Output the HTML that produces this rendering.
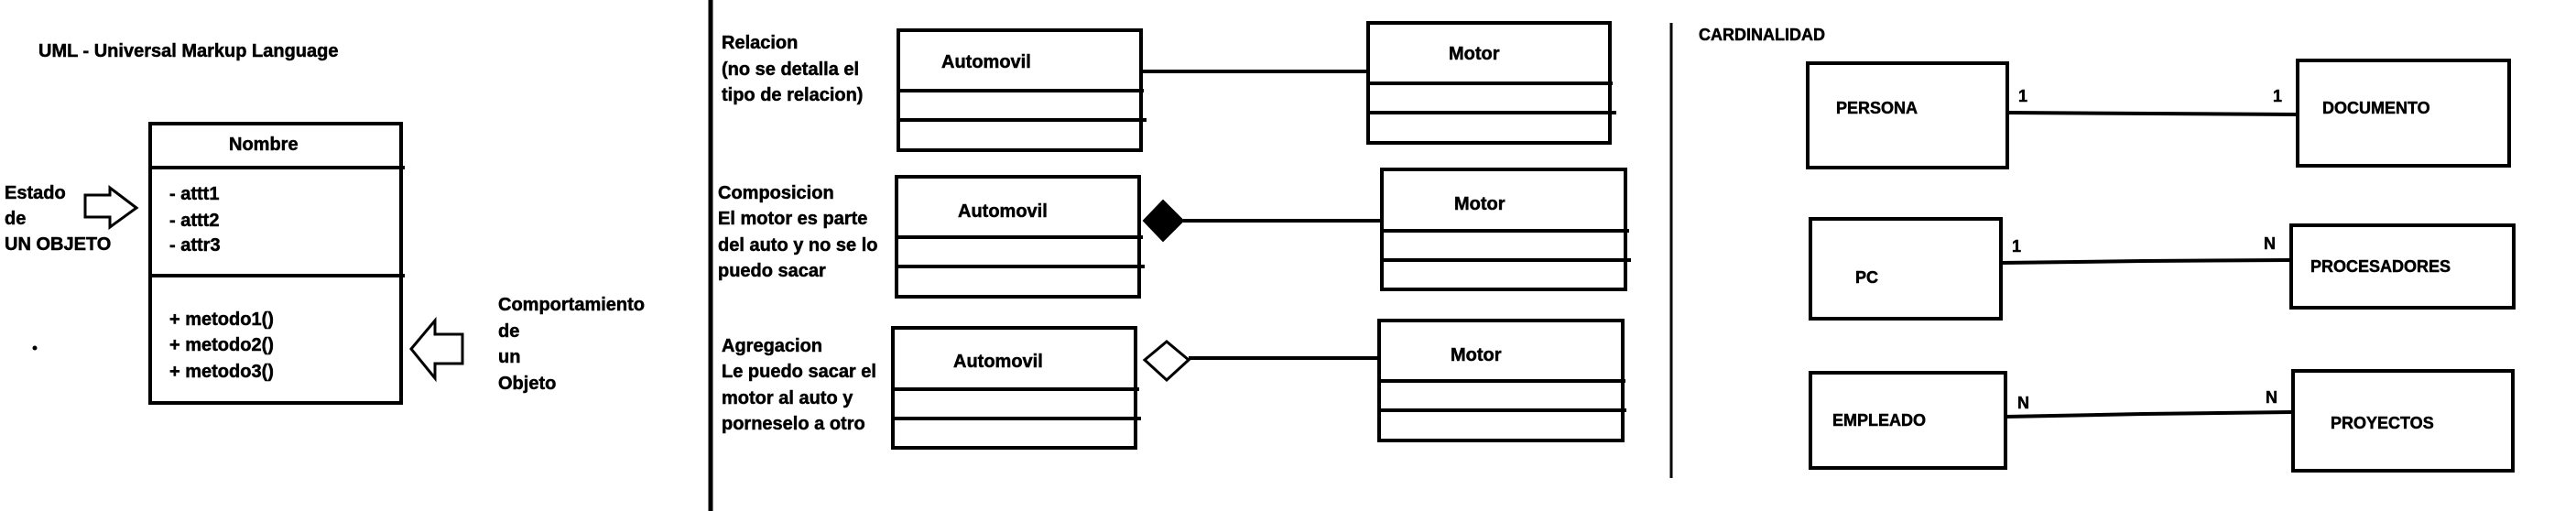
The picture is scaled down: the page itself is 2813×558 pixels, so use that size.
<!DOCTYPE html>
<html><head><meta charset="utf-8"><style>
html,body{margin:0;padding:0;background:#fff;}
svg{display:block;}
text{font-family:"Liberation Sans",sans-serif;font-weight:bold;fill:#000;stroke:#000;stroke-width:0.5;dominant-baseline:central;}
</style></head><body>
<svg width="2813" height="558" viewBox="0 0 2813 558" xmlns="http://www.w3.org/2000/svg">
<g fill="none" stroke="#000" stroke-width="4">
<line x1="776" y1="0" x2="776" y2="558" stroke-width="5"/>
<line x1="1825" y1="25" x2="1825" y2="522" stroke-width="3"/>
<rect x="164" y="135" width="274" height="305"/>
<line x1="164" y1="183" x2="442" y2="183"/>
<line x1="164" y1="301" x2="442" y2="301"/>
<polygon points="93,213 120,213 120,205 149,227 120,248 120,237 93,237" stroke-width="3"/>
<polygon points="449,381 475,350 475,365 505,365 505,397 475,397 475,413" stroke-width="3"/>
<rect x="981" y="33" width="265" height="131"/>
<line x1="981" y1="99" x2="1249" y2="99"/>
<line x1="981" y1="131" x2="1252" y2="131"/>
<line x1="1246" y1="78" x2="1492" y2="78"/>
<rect x="1494" y="25" width="264" height="131"/>
<line x1="1494" y1="91" x2="1761" y2="91"/>
<line x1="1494" y1="123" x2="1765" y2="123"/>
<rect x="979" y="193" width="265" height="131"/>
<line x1="979" y1="259" x2="1248" y2="259"/>
<line x1="979" y1="291" x2="1250" y2="291"/>
<polygon points="1249,241 1270,219 1292,241 1270,263" fill="#000" stroke-width="2"/>
<line x1="1292" y1="241" x2="1509" y2="241"/>
<rect x="1509" y="185" width="266" height="131"/>
<line x1="1509" y1="252" x2="1779" y2="252"/>
<line x1="1509" y1="284" x2="1781" y2="284"/>
<rect x="975" y="358" width="265" height="131"/>
<line x1="975" y1="425" x2="1244" y2="425"/>
<line x1="975" y1="457" x2="1246" y2="457"/>
<polygon points="1250,393 1274,373 1298,393 1274,415" stroke-width="3"/>
<line x1="1298" y1="391" x2="1506" y2="391"/>
<rect x="1506" y="350" width="266" height="131"/>
<line x1="1506" y1="416" x2="1775" y2="416"/>
<line x1="1506" y1="448" x2="1776" y2="448"/>
<rect x="1974" y="69" width="218" height="114"/>
<rect x="2509" y="66" width="231" height="115"/>
<polyline points="2193,123 2350,124 2508,125"/>
<rect x="1977" y="239" width="208" height="109"/>
<rect x="2502" y="246" width="243" height="90"/>
<polyline points="2186,287 2340,285 2501,284"/>
<rect x="1977" y="407" width="213" height="104"/>
<rect x="2504" y="405" width="240" height="109"/>
<polyline points="2191,455 2340,452 2503,450"/>
</g>
<circle cx="38" cy="380" r="2.5" fill="#000"/>
<g font-size="20">
<text x="42" y="56">UML - Universal Markup Language</text>
<text x="250" y="158">Nombre</text>
<text x="185" y="212">- attt1</text>
<text x="185" y="241">- attt2</text>
<text x="185" y="268">- attr3</text>
<text x="185" y="349">+ metodo1()</text>
<text x="185" y="377">+ metodo2()</text>
<text x="185" y="406">+ metodo3()</text>
<text x="5" y="211">Estado</text>
<text x="5" y="239">de</text>
<text x="5" y="267">UN OBJETO</text>
<text x="544" y="333">Comportamiento</text>
<text x="544" y="362">de</text>
<text x="544" y="390">un</text>
<text x="544" y="419">Objeto</text>
<text x="788" y="47">Relacion</text>
<text x="788" y="76">(no se detalla el</text>
<text x="788" y="104">tipo de relacion)</text>
<text x="1028" y="68">Automovil</text>
<text x="1582" y="59">Motor</text>
<text x="784" y="211">Composicion</text>
<text x="784" y="239">El motor es parte</text>
<text x="784" y="268">del auto y no se lo</text>
<text x="784" y="296">puedo sacar</text>
<text x="1046" y="231">Automovil</text>
<text x="1588" y="223">Motor</text>
<text x="788" y="378">Agregacion</text>
<text x="788" y="406">Le puedo sacar el</text>
<text x="788" y="435">motor al auto y</text>
<text x="788" y="463">porneselo a otro</text>
<text x="1041" y="395">Automovil</text>
<text x="1584" y="388">Motor</text>
</g>
<g font-size="18">
<text x="1855" y="38">CARDINALIDAD</text>
<text x="2005" y="118">PERSONA</text>
<text x="2536" y="118">DOCUMENTO</text>
<text x="2204" y="105">1</text>
<text x="2482" y="105">1</text>
<text x="2026" y="303">PC</text>
<text x="2523" y="291">PROCESADORES</text>
<text x="2197" y="269">1</text>
<text x="2472" y="266">N</text>
<text x="2001" y="459">EMPLEADO</text>
<text x="2545" y="462">PROYECTOS</text>
<text x="2203" y="440">N</text>
<text x="2474" y="434">N</text>
</g>
</svg>
</body></html>
